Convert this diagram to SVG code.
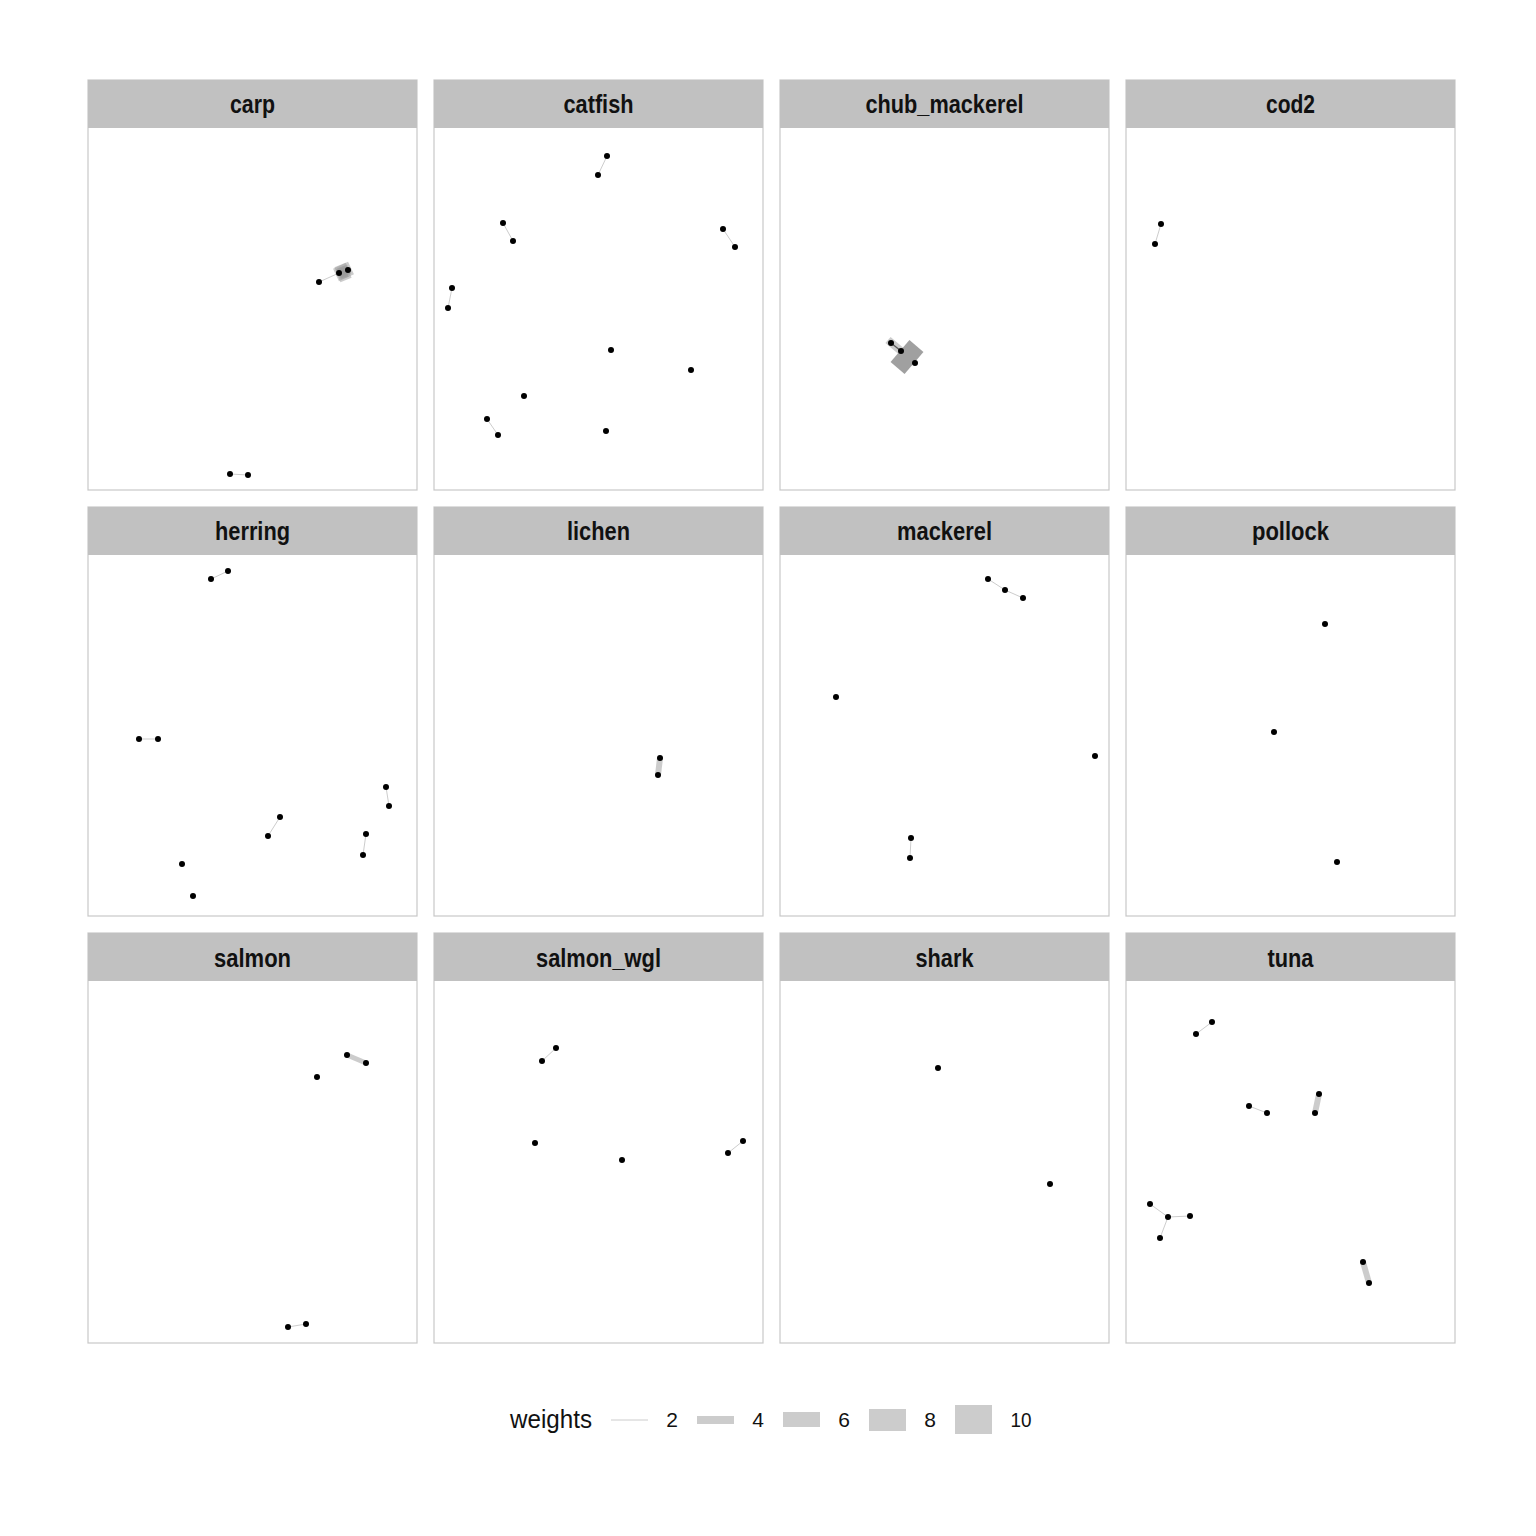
<svg xmlns="http://www.w3.org/2000/svg" width="1536" height="1536" viewBox="0 0 1536 1536">
<style>
.panel{fill:#ffffff;stroke:#c8c8c8;stroke-width:1.2}
.strip{fill:#c1c1c1}
.title{font-family:"Liberation Sans",Arial,sans-serif;font-weight:bold;font-size:25px;text-anchor:middle;fill:#111}
.e{stroke:#999999;stroke-opacity:0.5;stroke-linecap:butt;fill:none}
.n{fill:#000}
.lg{font-family:"Liberation Sans",Arial,sans-serif;fill:#111}
</style>
<rect width="1536" height="1536" fill="#ffffff"/>
<g id="panels">
<g id="p-carp"><rect class="panel" x="88" y="80" width="329" height="410"/><rect class="strip" x="88" y="80" width="329" height="48"/><text class="title" x="252.5" y="113" textLength="45" lengthAdjust="spacingAndGlyphs">carp</text></g>
<g id="p-catfish"><rect class="panel" x="434" y="80" width="329" height="410"/><rect class="strip" x="434" y="80" width="329" height="48"/><text class="title" x="598.5" y="113" textLength="70" lengthAdjust="spacingAndGlyphs">catfish</text></g>
<g id="p-chub"><rect class="panel" x="780" y="80" width="329" height="410"/><rect class="strip" x="780" y="80" width="329" height="48"/><text class="title" x="944.5" y="113" textLength="158" lengthAdjust="spacingAndGlyphs">chub_mackerel</text></g>
<g id="p-cod2"><rect class="panel" x="1126" y="80" width="329" height="410"/><rect class="strip" x="1126" y="80" width="329" height="48"/><text class="title" x="1290.5" y="113" textLength="49" lengthAdjust="spacingAndGlyphs">cod2</text></g>
<g id="p-herring"><rect class="panel" x="88" y="507" width="329" height="409"/><rect class="strip" x="88" y="507" width="329" height="48"/><text class="title" x="252.5" y="540" textLength="75" lengthAdjust="spacingAndGlyphs">herring</text></g>
<g id="p-lichen"><rect class="panel" x="434" y="507" width="329" height="409"/><rect class="strip" x="434" y="507" width="329" height="48"/><text class="title" x="598.5" y="540" textLength="63" lengthAdjust="spacingAndGlyphs">lichen</text></g>
<g id="p-mackerel"><rect class="panel" x="780" y="507" width="329" height="409"/><rect class="strip" x="780" y="507" width="329" height="48"/><text class="title" x="944.5" y="540" textLength="95" lengthAdjust="spacingAndGlyphs">mackerel</text></g>
<g id="p-pollock"><rect class="panel" x="1126" y="507" width="329" height="409"/><rect class="strip" x="1126" y="507" width="329" height="48"/><text class="title" x="1290.5" y="540" textLength="77" lengthAdjust="spacingAndGlyphs">pollock</text></g>
<g id="p-salmon"><rect class="panel" x="88" y="933" width="329" height="410"/><rect class="strip" x="88" y="933" width="329" height="48"/><text class="title" x="252.5" y="967" textLength="77" lengthAdjust="spacingAndGlyphs">salmon</text></g>
<g id="p-salmon_wgl"><rect class="panel" x="434" y="933" width="329" height="410"/><rect class="strip" x="434" y="933" width="329" height="48"/><text class="title" x="598.5" y="967" textLength="125" lengthAdjust="spacingAndGlyphs">salmon_wgl</text></g>
<g id="p-shark"><rect class="panel" x="780" y="933" width="329" height="410"/><rect class="strip" x="780" y="933" width="329" height="48"/><text class="title" x="944.5" y="967" textLength="58" lengthAdjust="spacingAndGlyphs">shark</text></g>
<g id="p-tuna"><rect class="panel" x="1126" y="933" width="329" height="410"/><rect class="strip" x="1126" y="933" width="329" height="48"/><text class="title" x="1290.5" y="967" textLength="46" lengthAdjust="spacingAndGlyphs">tuna</text></g>
</g>
<g id="connectors">
<!-- carp -->
<line class="e" x1="319" y1="282" x2="339" y2="273" stroke-width="1"/>
<line class="e" x1="336" y1="275" x2="351" y2="268" stroke-width="14"/>
<line class="e" x1="340" y1="265" x2="346" y2="280" stroke-width="12"/>
<line class="e" x1="338" y1="274" x2="349" y2="269" stroke-width="10"/>
<line class="e" x1="341" y1="267" x2="345" y2="278" stroke-width="8"/>
<line class="e" x1="339" y1="273" x2="348" y2="270" stroke-width="7"/>
<line class="e" x1="342" y1="268" x2="345" y2="277" stroke-width="6"/>
<line class="e" x1="230" y1="474" x2="248" y2="475" stroke-width="1"/>
<!-- catfish -->
<line class="e" x1="607" y1="156" x2="598" y2="175" stroke-width="1"/>
<line class="e" x1="503" y1="223" x2="513" y2="241" stroke-width="1"/>
<line class="e" x1="723" y1="229" x2="735" y2="247" stroke-width="1"/>
<line class="e" x1="452" y1="288" x2="448" y2="308" stroke-width="1"/>
<line class="e" x1="487" y1="419" x2="498" y2="435" stroke-width="1"/>
<!-- chub_mackerel -->
<line x1="900" y1="351" x2="914" y2="363" stroke="#a0a0a0" stroke-width="29"/>
<line class="e" x1="888" y1="340" x2="901" y2="351" stroke-width="8"/>
<line x1="891" y1="343" x2="901" y2="351" stroke="#555" stroke-width="1.2"/>
<!-- cod2 -->
<line class="e" x1="1161" y1="224" x2="1155" y2="244" stroke-width="1"/>
<!-- herring -->
<line class="e" x1="211" y1="579" x2="228" y2="571" stroke-width="1"/>
<line class="e" x1="139" y1="739" x2="158" y2="739" stroke-width="1"/>
<line class="e" x1="386" y1="787" x2="389" y2="806" stroke-width="1"/>
<line class="e" x1="280" y1="817" x2="268" y2="836" stroke-width="1"/>
<line class="e" x1="366" y1="834" x2="363" y2="855" stroke-width="1"/>
<!-- lichen -->
<line class="e" x1="660" y1="758" x2="658" y2="775" stroke-width="6"/>
<!-- mackerel -->
<line class="e" x1="988" y1="579" x2="1005" y2="590" stroke-width="1"/>
<line class="e" x1="1005" y1="590" x2="1023" y2="598" stroke-width="1"/>
<line class="e" x1="911" y1="838" x2="910" y2="858" stroke-width="1"/>
<!-- salmon -->
<line class="e" x1="347" y1="1055" x2="366" y2="1063" stroke-width="5"/>
<line class="e" x1="288" y1="1327" x2="306" y2="1324" stroke-width="1"/>
<!-- salmon_wgl -->
<line class="e" x1="556" y1="1048" x2="542" y2="1061" stroke-width="1"/>
<line class="e" x1="743" y1="1141" x2="728" y2="1153" stroke-width="1"/>
<!-- tuna -->
<line class="e" x1="1212" y1="1022" x2="1196" y2="1034" stroke-width="1"/>
<line class="e" x1="1249" y1="1106" x2="1267" y2="1113" stroke-width="1"/>
<line class="e" x1="1319" y1="1094" x2="1315" y2="1113" stroke-width="6"/>
<line class="e" x1="1150" y1="1204" x2="1168" y2="1217" stroke-width="1"/>
<line class="e" x1="1168" y1="1217" x2="1190" y2="1216" stroke-width="1"/>
<line class="e" x1="1168" y1="1217" x2="1160" y2="1238" stroke-width="1"/>
<line class="e" x1="1363" y1="1262" x2="1369" y2="1283" stroke-width="6"/>
</g>
<g id="nodes">
<circle class="n" cx="319" cy="282" r="3"/><circle class="n" cx="339" cy="273" r="3"/><circle class="n" cx="348" cy="270" r="3"/>
<circle class="n" cx="230" cy="474" r="3"/><circle class="n" cx="248" cy="475" r="3"/>
<circle class="n" cx="607" cy="156" r="3"/><circle class="n" cx="598" cy="175" r="3"/><circle class="n" cx="503" cy="223" r="3"/><circle class="n" cx="513" cy="241" r="3"/><circle class="n" cx="723" cy="229" r="3"/><circle class="n" cx="735" cy="247" r="3"/><circle class="n" cx="452" cy="288" r="3"/><circle class="n" cx="448" cy="308" r="3"/><circle class="n" cx="611" cy="350" r="3"/><circle class="n" cx="691" cy="370" r="3"/><circle class="n" cx="524" cy="396" r="3"/><circle class="n" cx="487" cy="419" r="3"/><circle class="n" cx="498" cy="435" r="3"/><circle class="n" cx="606" cy="431" r="3"/>
<circle class="n" cx="891" cy="343" r="3"/><circle class="n" cx="901" cy="351" r="3"/><circle class="n" cx="915" cy="363" r="3"/>
<circle class="n" cx="1161" cy="224" r="3"/><circle class="n" cx="1155" cy="244" r="3"/>
<circle class="n" cx="211" cy="579" r="3"/><circle class="n" cx="228" cy="571" r="3"/><circle class="n" cx="139" cy="739" r="3"/><circle class="n" cx="158" cy="739" r="3"/><circle class="n" cx="386" cy="787" r="3"/><circle class="n" cx="389" cy="806" r="3"/><circle class="n" cx="280" cy="817" r="3"/><circle class="n" cx="268" cy="836" r="3"/><circle class="n" cx="366" cy="834" r="3"/><circle class="n" cx="363" cy="855" r="3"/><circle class="n" cx="182" cy="864" r="3"/><circle class="n" cx="193" cy="896" r="3"/>
<circle class="n" cx="660" cy="758" r="3"/><circle class="n" cx="658" cy="775" r="3"/>
<circle class="n" cx="988" cy="579" r="3"/><circle class="n" cx="1005" cy="590" r="3"/><circle class="n" cx="1023" cy="598" r="3"/><circle class="n" cx="836" cy="697" r="3"/><circle class="n" cx="1095" cy="756" r="3"/><circle class="n" cx="911" cy="838" r="3"/><circle class="n" cx="910" cy="858" r="3"/>
<circle class="n" cx="1325" cy="624" r="3"/><circle class="n" cx="1274" cy="732" r="3"/><circle class="n" cx="1337" cy="862" r="3"/>
<circle class="n" cx="347" cy="1055" r="3"/><circle class="n" cx="366" cy="1063" r="3"/><circle class="n" cx="317" cy="1077" r="3"/><circle class="n" cx="288" cy="1327" r="3"/><circle class="n" cx="306" cy="1324" r="3"/>
<circle class="n" cx="556" cy="1048" r="3"/><circle class="n" cx="542" cy="1061" r="3"/><circle class="n" cx="535" cy="1143" r="3"/><circle class="n" cx="622" cy="1160" r="3"/><circle class="n" cx="743" cy="1141" r="3"/><circle class="n" cx="728" cy="1153" r="3"/>
<circle class="n" cx="938" cy="1068" r="3"/><circle class="n" cx="1050" cy="1184" r="3"/>
<circle class="n" cx="1212" cy="1022" r="3"/><circle class="n" cx="1196" cy="1034" r="3"/><circle class="n" cx="1249" cy="1106" r="3"/><circle class="n" cx="1267" cy="1113" r="3"/><circle class="n" cx="1319" cy="1094" r="3"/><circle class="n" cx="1315" cy="1113" r="3"/><circle class="n" cx="1150" cy="1204" r="3"/><circle class="n" cx="1168" cy="1217" r="3"/><circle class="n" cx="1190" cy="1216" r="3"/><circle class="n" cx="1160" cy="1238" r="3"/><circle class="n" cx="1363" cy="1262" r="3"/><circle class="n" cx="1369" cy="1283" r="3"/>
</g>
<g id="legend">
<text class="lg" x="510" y="1428" font-size="26" textLength="82" lengthAdjust="spacingAndGlyphs">weights</text>
<line x1="611" y1="1420" x2="648" y2="1420" stroke="#cccccc" stroke-width="1"/>
<text class="lg" x="672" y="1427" font-size="21" text-anchor="middle">2</text>
<rect x="697" y="1416" width="37" height="8" fill="#cccccc"/>
<text class="lg" x="758" y="1427" font-size="21" text-anchor="middle">4</text>
<rect x="783" y="1412" width="37" height="15" fill="#cccccc"/>
<text class="lg" x="844" y="1427" font-size="21" text-anchor="middle">6</text>
<rect x="869" y="1409" width="37" height="22" fill="#cccccc"/>
<text class="lg" x="930" y="1427" font-size="21" text-anchor="middle">8</text>
<rect x="955" y="1405" width="37" height="29" fill="#cccccc"/>
<text class="lg" x="1021" y="1427" font-size="21" text-anchor="middle" textLength="21" lengthAdjust="spacingAndGlyphs">10</text>
</g>
</svg>
